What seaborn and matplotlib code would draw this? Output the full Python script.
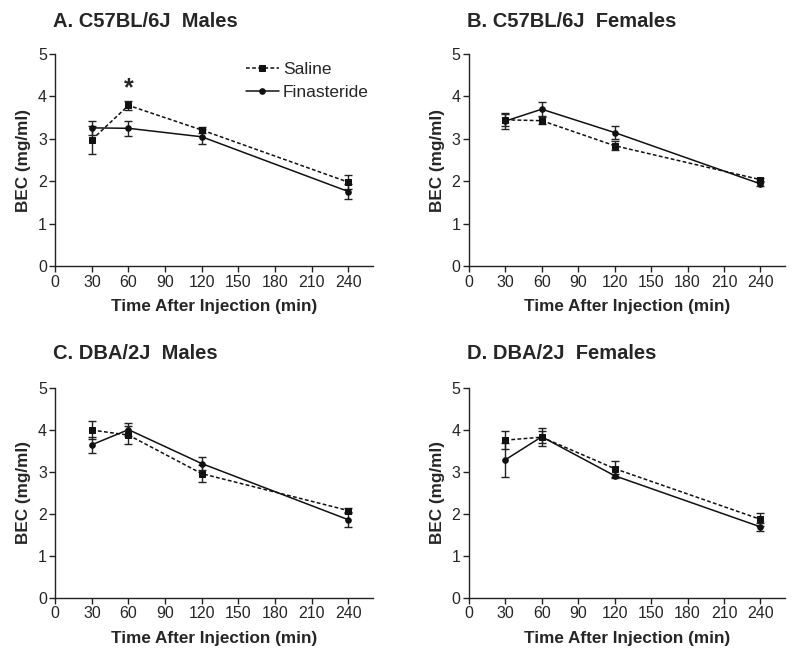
"""BEC time course after ethanol injection, saline vs finasteride, four groups."""
import matplotlib
matplotlib.use("Agg")
import matplotlib.pyplot as plt
import seaborn as sns
import pandas as pd

times = [30, 60, 120, 240]
treatments = ["Saline", "Finasteride"]
panel_titles = [
    "A. C57BL/6J  Males",
    "B. C57BL/6J  Females",
    "C. DBA/2J  Males",
    "D. DBA/2J  Females",
]

# means and SEMs, mg/ml
saline_mean = [
    [2.98, 3.79, 3.21, 1.98],
    [3.45, 3.43, 2.84, 2.04],
    [4.00, 3.88, 2.96, 2.08],
    [3.76, 3.83, 3.08, 1.87],
]
saline_sem = [
    [0.33, 0.10, 0.06, 0.17],
    [0.14, 0.08, 0.10, 0.04],
    [0.22, 0.22, 0.20, 0.07],
    [0.21, 0.15, 0.19, 0.15],
]
fin_mean = [
    [3.26, 3.25, 3.05, 1.76],
    [3.42, 3.70, 3.15, 1.94],
    [3.65, 4.01, 3.20, 1.86],
    [3.29, 3.84, 2.91, 1.69],
]
fin_sem = [
    [0.16, 0.18, 0.18, 0.18],
    [0.19, 0.17, 0.16, 0.04],
    [0.19, 0.16, 0.16, 0.18],
    [0.41, 0.22, 0.05, 0.10],
]
star_time, star_y = 60, 4.2

sns.set_theme(style="ticks")
plt.rcParams["font.family"] = ["Liberation Sans", "DejaVu Sans"]

rows = []
for p in range(4):
    for i, t in enumerate(times):
        rows.append({"panel": p, "time": t, "treatment": "Saline",
                     "bec": saline_mean[p][i], "sem": saline_sem[p][i]})
        rows.append({"panel": p, "time": t, "treatment": "Finasteride",
                     "bec": fin_mean[p][i], "sem": fin_sem[p][i]})
df = pd.DataFrame(rows)

fig = plt.figure(figsize=(8, 6.59), dpi=100)
boxes = [
    (0.069, 0.596, 0.397, 0.322),
    (0.586, 0.596, 0.395, 0.322),
    (0.069, 0.093, 0.397, 0.318),
    (0.586, 0.093, 0.395, 0.318),
]
title_pos = [(0.066, 0.968), (0.584, 0.968), (0.066, 0.463), (0.584, 0.463)]

for p in range(4):
    ax = fig.add_axes(boxes[p])
    sub = df[df["panel"] == p]
    for tr in treatments:
        s = sub[sub["treatment"] == tr]
        ax.errorbar(s["time"], s["bec"], yerr=s["sem"], fmt="none",
                    ecolor="#222222", elinewidth=1.0, capsize=3, capthick=1.0,
                    zorder=2)
    sns.lineplot(data=sub, x="time", y="bec", style="treatment",
                 style_order=treatments,
                 dashes={"Saline": (2.5, 1.5), "Finasteride": ""},
                 markers={"Saline": "s", "Finasteride": "o"},
                 color="#111111", linewidth=1.1, markersize=4,
                 markeredgecolor="#111111", ax=ax, legend=(p == 0), zorder=3)

    ax.set_xlim(0, 260)
    ax.set_ylim(0, 5)
    ax.set_xticks([0, 30, 60, 90, 120, 150, 180, 210, 240])
    ax.set_yticks([0, 1, 2, 3, 4, 5])
    ax.tick_params(labelsize=11.5, length=4, width=1, color="#222222",
                   pad=2)
    for side in ["left", "bottom"]:
        ax.spines[side].set_linewidth(1.0)
        ax.spines[side].set_color("#222222")
    sns.despine(ax=ax)
    ax.set_xlabel("Time After Injection (min)", fontsize=12.3,
                  fontweight="bold", labelpad=7)
    ax.set_ylabel("BEC (mg/ml)", fontsize=12.3, fontweight="bold", labelpad=5)
    fig.text(title_pos[p][0], title_pos[p][1], panel_titles[p],
             fontsize=14.5, fontweight="bold", ha="left", va="center")

    if p == 0:
        ax.text(star_time, star_y, "*", fontsize=18, fontweight="bold",
                ha="center", va="center")
        leg = ax.legend(loc="upper right", bbox_to_anchor=(1.02, 1.01),
                        frameon=False, fontsize=12.5, handlelength=1.9,
                        handletextpad=0.25, borderaxespad=0.2,
                        labelspacing=0.45)

fig.savefig("out.png", dpi=100)
